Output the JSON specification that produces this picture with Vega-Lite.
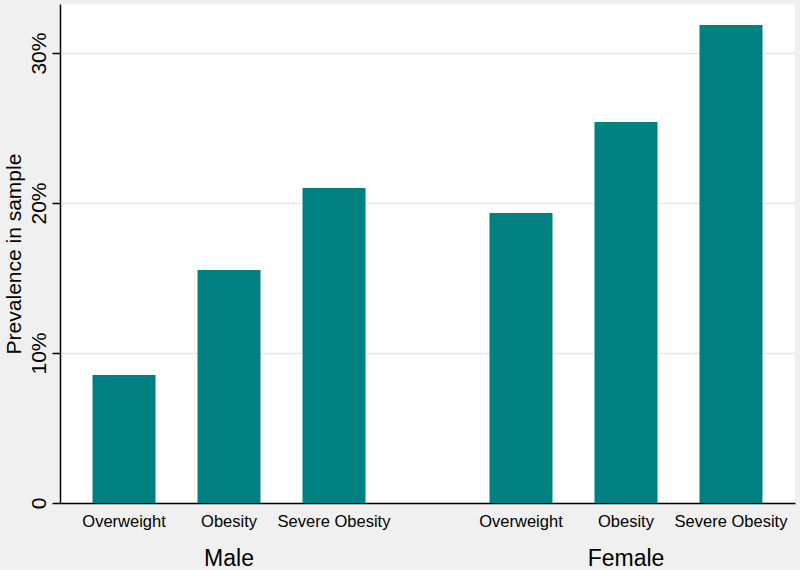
{
  "$schema": "https://vega.github.io/schema/vega-lite/v6.json",
  "autosize": {"type": "none"},
  "width": 735,
  "height": 499,
  "padding": {"left": 60, "top": 4, "right": 5, "bottom": 67},
  "background": "#f0f0f0",
  "config": {
    "view": {"fill": "white", "stroke": null},
    "font": "Liberation Sans"
  },
  "data": {
    "values": [
      {"sex": "Male", "category": "Overweight", "prevalence": 8.53},
      {"sex": "Male", "category": "Obesity", "prevalence": 15.53},
      {"sex": "Male", "category": "Severe Obesity", "prevalence": 21.0},
      {"sex": "Female", "category": "Overweight", "prevalence": 19.33},
      {"sex": "Female", "category": "Obesity", "prevalence": 25.4},
      {"sex": "Female", "category": "Severe Obesity", "prevalence": 31.87}
    ]
  },
  "encoding": {
    "x": {
      "field": "sex",
      "type": "nominal",
      "sort": ["Male", "Female"],
      "scale": {"paddingInner": 0.2065, "paddingOuter": 0.029},
      "axis": {
        "title": null,
        "labelAngle": 0,
        "labelFontSize": 23,
        "labelColor": "black",
        "labelPadding": 44,
        "labelBaseline": "top",
        "ticks": false,
        "domainColor": "black",
        "domainWidth": 1.5,
        "grid": false
      }
    },
    "xOffset": {
      "field": "category",
      "type": "nominal",
      "sort": ["Overweight", "Obesity", "Severe Obesity"],
      "scale": {"paddingInner": 0.4, "paddingOuter": 0.2}
    }
  },
  "layer": [
    {
      "mark": {"type": "bar", "color": "#008080"},
      "encoding": {
        "y": {
          "field": "prevalence",
          "type": "quantitative",
          "scale": {"domain": [0, 33.27], "nice": false, "zero": true},
          "axis": {
            "title": "Prevalence in sample",
            "titleFontSize": 21,
            "titleFontWeight": "normal",
            "titleColor": "black",
            "titlePadding": 4,
            "values": [0, 10, 20, 30],
            "labelExpr": "datum.value == 0 ? '0' : datum.value + '%'",
            "labelAngle": -90,
            "labelAlign": "center",
            "labelBaseline": "bottom",
            "labelFontSize": 21,
            "labelColor": "black",
            "labelPadding": 3,
            "tickSize": 8,
            "tickColor": "black",
            "tickWidth": 1.5,
            "domainColor": "black",
            "domainWidth": 1.5,
            "grid": true,
            "gridColor": "#e6e6e6",
            "gridWidth": 1.5
          }
        }
      }
    },
    {
      "mark": {"type": "text", "fontSize": 16.5, "color": "black", "baseline": "middle", "dy": 19},
      "encoding": {
        "y": {"datum": 0, "type": "quantitative"},
        "text": {"field": "category"}
      }
    }
  ]
}
